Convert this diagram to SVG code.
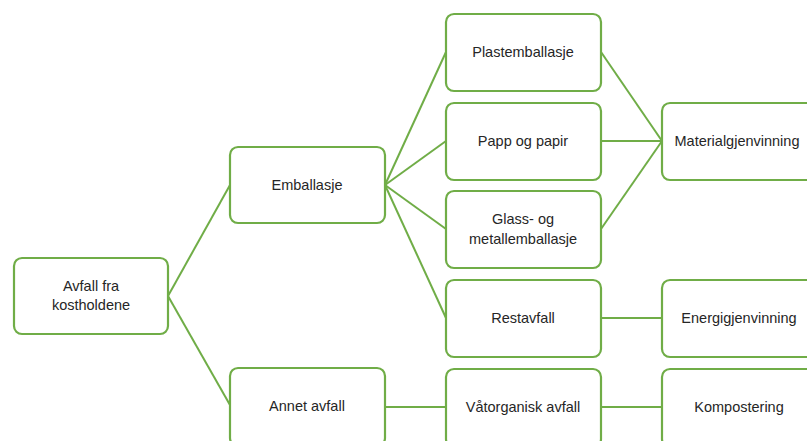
<svg xmlns="http://www.w3.org/2000/svg" width="807" height="441" viewBox="0 0 807 441">
<style>
.n rect{fill:#fff;stroke:#70AD47;stroke-width:2.2}
.n text{font-family:"Liberation Sans",Arial,sans-serif;font-size:14.5px;fill:#262626;text-anchor:middle;dominant-baseline:central}
#c line{stroke:#70AD47;stroke-width:2}
</style>
<rect width="807" height="441" fill="#fff"/>
<g id="c">
<line x1="168" y1="296" x2="230" y2="185"/>
<line x1="168" y1="296" x2="230" y2="405"/>
<line x1="385" y1="185" x2="446" y2="52"/>
<line x1="385" y1="185" x2="446" y2="141"/>
<line x1="385" y1="185" x2="446" y2="229"/>
<line x1="385" y1="185" x2="446" y2="318"/>
<line x1="601" y1="52" x2="662" y2="141"/>
<line x1="601" y1="141" x2="662" y2="141"/>
<line x1="601" y1="229" x2="662" y2="141"/>
<line x1="601" y1="318" x2="662" y2="318"/>
<line x1="385" y1="407" x2="446" y2="407"/>
<line x1="601" y1="407" x2="662" y2="407"/>
</g>
<g id="avfall" class="n"><rect x="14" y="258" width="154" height="76" rx="8"/><text x="91" y="286">Avfall fra</text><text x="91" y="305">kostholdene</text></g>
<g id="emballasje" class="n"><rect x="230" y="147" width="155" height="76" rx="8"/><text x="307" y="185">Emballasje</text></g>
<g id="annet" class="n"><rect x="230" y="368" width="155" height="78" rx="8"/><text x="307" y="406">Annet avfall</text></g>
<g id="plast" class="n"><rect x="446" y="14" width="155" height="77" rx="8"/><text x="523" y="52">Plastemballasje</text></g>
<g id="papp" class="n"><rect x="446" y="103" width="155" height="77" rx="8"/><text x="523" y="141">Papp og papir</text></g>
<g id="glass" class="n"><rect x="446" y="191" width="155" height="77" rx="8"/><text x="523" y="219">Glass- og</text><text x="523" y="239">metallemballasje</text></g>
<g id="rest" class="n"><rect x="446" y="280" width="155" height="77" rx="8"/><text x="523" y="318">Restavfall</text></g>
<g id="vat" class="n"><rect x="446" y="369" width="155" height="78" rx="8"/><text x="523" y="407">Våtorganisk avfall</text></g>
<g id="material" class="n"><rect x="662" y="103" width="155" height="77" rx="8"/><text x="737" y="141">Materialgjenvinning</text></g>
<g id="energi" class="n"><rect x="662" y="280" width="155" height="77" rx="8"/><text x="739" y="318">Energigjenvinning</text></g>
<g id="kompost" class="n"><rect x="662" y="369" width="155" height="78" rx="8"/><text x="739" y="407">Kompostering</text></g>
</svg>
